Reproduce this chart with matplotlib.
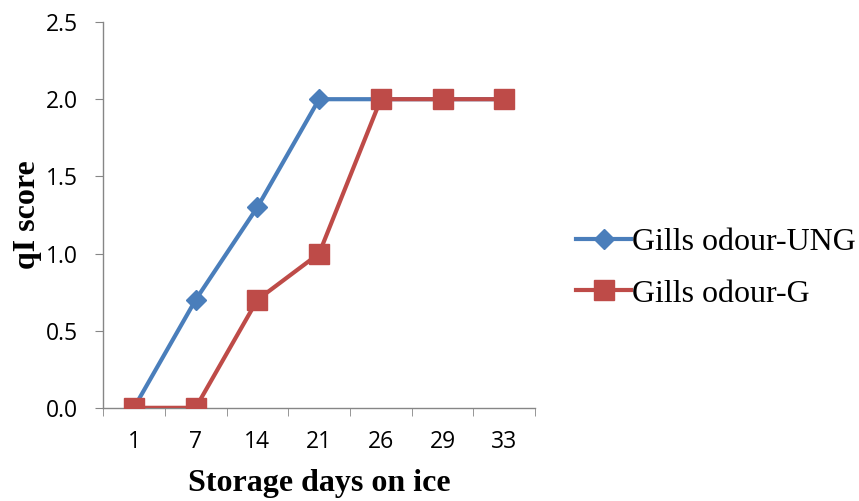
import numpy as np
import matplotlib
matplotlib.use("Agg")
import matplotlib.pyplot as plt

days = ["1", "7", "14", "21", "26", "29", "33"]
ung = [0, 0.7, 1.3, 2.0, 2.0, 2.0, 2.0]
g = [0, 0, 0.7, 1.0, 2.0, 2.0, 2.0]

fig = plt.figure(figsize=(8.59, 5.01), dpi=100)
ax = fig.add_axes([0.120, 0.186, 0.503, 0.770])

x = np.arange(len(days))
ax.plot(x, ung, color="#4A7EBB", lw=3, marker="D", markersize=10,
        label="Gills odour-UNG", zorder=3)
ax.plot(x, g, color="#BE4B48", lw=3, marker="s", markersize=14,
        label="Gills odour-G", zorder=4)

ax.set_xlim(-0.5, len(days) - 0.5)
ax.set_ylim(0, 2.5)
ax.set_yticks(np.arange(0, 2.51, 0.5))
ax.set_yticklabels([f"{v:.1f}" for v in np.arange(0, 2.51, 0.5)],
                   fontsize=16.5, family="Open Sans")
ax.set_xticks(x)
ax.set_xticklabels(days, fontsize=16.5, family="Open Sans")
ax.set_xticks(np.arange(-0.5, len(days)), minor=True)
ax.tick_params(axis="x", which="major", length=0, pad=16)
ax.tick_params(axis="x", which="minor", length=6, color="#868686", direction="out")
ax.tick_params(axis="y", length=6, color="#868686", direction="out", pad=12)

for s in ["top", "right"]:
    ax.spines[s].set_visible(False)
for s in ["left", "bottom"]:
    ax.spines[s].set_color("#868686")
    ax.spines[s].set_linewidth(1)

ax.set_xlabel("Storage days on ice", fontsize=23, fontweight="bold",
              family="Liberation Serif", labelpad=11)
ax.set_ylabel("qI score", fontsize=23, fontweight="bold",
              family="Liberation Serif", labelpad=3)

fig.legend(loc="center left", bbox_to_anchor=(0.671, 0.465), frameon=False,
           prop={"family": "Liberation Serif", "size": 23},
           handlelength=1.7, handletextpad=0.05, labelspacing=0.7,
           borderpad=0, borderaxespad=0)

fig.savefig("out.png", dpi=100)
